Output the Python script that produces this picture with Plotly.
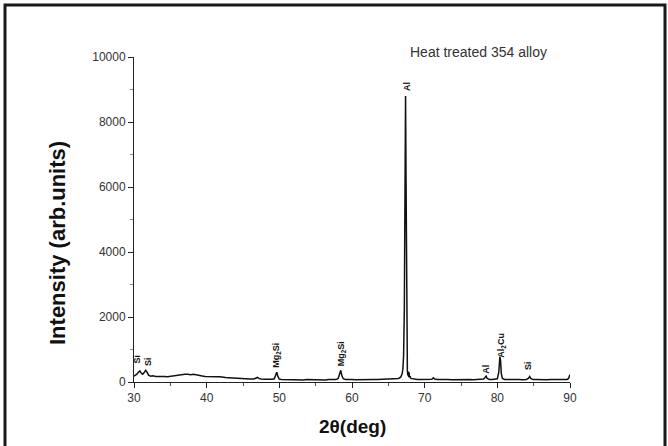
import plotly.graph_objects as go

two_theta = [
    30.0, 30.2, 30.4, 30.6, 30.8, 31.0, 31.2, 31.4, 31.6, 31.8, 32.0, 32.3, 32.6, 33.0, 33.4, 33.8,
    34.2, 34.6, 35.0, 35.4, 35.8, 36.2, 36.6, 37.0, 37.4, 37.8, 38.2, 38.6, 39.0, 39.4, 39.8, 40.2,
    40.6, 41.0, 41.4, 41.8, 42.2, 42.6, 43.0, 43.5, 44.0, 44.5, 45.0, 45.5, 46.0, 46.5, 46.8, 47.0,
    47.2, 47.5, 48.0, 48.5, 49.0, 49.3, 49.5, 49.65, 49.8, 50.0, 50.3, 50.8, 51.3, 51.8, 52.3, 52.8,
    53.3, 53.8, 54.3, 54.8, 55.3, 55.8, 56.3, 56.8, 57.3, 57.8, 58.1, 58.3, 58.45, 58.6, 58.8, 59.1,
    59.5, 60.0, 60.5, 61.0, 61.5, 62.0, 62.5, 63.0, 63.5, 64.0, 64.5, 65.0, 65.5, 66.0, 66.4, 66.7,
    66.9, 67.0, 67.1, 67.2, 67.3, 67.37, 67.43, 67.5, 67.56, 67.62, 67.68, 67.74, 67.8, 67.86, 67.92, 68.0,
    68.1, 68.3, 68.6, 69.0, 69.5, 70.0, 70.5, 71.0, 71.2, 71.4, 71.7, 72.2, 72.7, 73.2, 73.7, 74.2,
    74.7, 75.2, 75.7, 76.2, 76.7, 77.2, 77.7, 78.1, 78.3, 78.45, 78.6, 78.9, 79.3, 79.7, 80.0, 80.2,
    80.35, 80.45, 80.55, 80.7, 81.0, 81.5, 82.0, 82.5, 83.0, 83.5, 84.0, 84.3, 84.45, 84.6, 84.9, 85.3,
    85.8, 86.3, 86.8, 87.3, 87.8, 88.3, 88.8, 89.3, 89.6, 89.8, 89.95, 90.0,
]
intensity = [
    180, 210, 240, 300, 340, 270, 240, 290, 360, 300, 210, 180, 190, 170, 175, 160,
    170, 165, 180, 195, 215, 230, 245, 240, 235, 225, 240, 215, 200, 185, 170, 165,
    160, 150, 160, 165, 140, 135, 130, 120, 115, 105, 100, 95, 90, 95, 120, 140,
    110, 90, 85, 80, 85, 100, 200, 300, 170, 90, 80, 75, 80, 70, 75, 70,
    65, 75, 70, 65, 75, 70, 65, 75, 70, 75, 110, 250, 360, 200, 100, 80,
    70, 75, 70, 75, 70, 75, 70, 80, 75, 80, 80, 85, 85, 90, 110, 150,
    250, 400, 800, 2200, 6200, 8800, 6500, 2600, 900, 350, 200, 320, 150, 300, 140, 180,
    110, 100, 90, 80, 80, 75, 80, 85, 130, 90, 75, 80, 70, 75, 70, 75,
    70, 75, 70, 75, 70, 75, 80, 90, 140, 180, 110, 80, 80, 85, 100, 300,
    780, 650, 250, 110, 80, 75, 80, 70, 75, 70, 80, 120, 170, 110, 75, 80,
    70, 75, 70, 75, 70, 75, 70, 75, 80, 110, 200, 230,
]

x_ticks = [30, 40, 50, 60, 70, 80, 90]
y_ticks = [0, 2000, 4000, 6000, 8000, 10000]
y_tick_text = ["0", "2000", "4000", "6000", "8000", "10000"]

peak_labels = ["Si", "Si", "Mg<sub>2</sub>Si", "Mg<sub>2</sub>Si", "Al", "Al", "Al<sub>2</sub>Cu", "Si"]
label_x = [30.45, 31.9, 49.5, 58.5, 67.55, 78.4, 80.6, 84.3]
label_y = [700, 640, 830, 860, 9100, 400, 1140, 510]

FONT = "Liberation Sans, Arial, sans-serif"

fig = go.Figure()
fig.add_trace(go.Scatter(x=two_theta, y=intensity, mode="lines",
                         line=dict(color="#111111", width=1.5), hoverinfo="skip"))

L, R, T, B = 134, 98, 57, 64
W, H = 668, 446
pw, ph = W - L - R, H - T - B

annotations = []
for t, x, y in zip(peak_labels, label_x, label_y):
    annotations.append(dict(x=x, y=y, xref="x", yref="y", text="<b>%s</b>" % t, showarrow=False,
                            textangle=-90, xanchor="center", yanchor="middle",
                            font=dict(family=FONT, size=9, color="#111111")))

annotations.append(dict(x=(478 - L) / pw, y=(382 - 52) / ph, xref="paper", yref="paper",
                        text="Heat treated 354 alloy", showarrow=False, xanchor="center", yanchor="middle",
                        font=dict(family=FONT, size=14, color="#333333")))
annotations.append(dict(x=(57 - L) / pw, y=(382 - 243) / ph, xref="paper", yref="paper",
                        text="<b>Intensity (arb.units)</b>", showarrow=False, textangle=-90,
                        xanchor="center", yanchor="middle",
                        font=dict(family=FONT, size=22, color="#111111")))
annotations.append(dict(x=(352 - L) / pw, y=(382 - 426) / ph, xref="paper", yref="paper",
                        text="<b>2θ(deg)</b>", showarrow=False, xanchor="center", yanchor="middle",
                        font=dict(family=FONT, size=19, color="#111111")))

fig.update_layout(
    width=W, height=H,
    margin=dict(l=L, r=R, t=T, b=B),
    paper_bgcolor="white", plot_bgcolor="white",
    showlegend=False,
    annotations=annotations,
    shapes=[dict(type="rect", xref="paper", yref="paper",
                 x0=(5 - L) / pw, x1=(665 - L) / pw, y0=(382 - 460) / ph, y1=(382 - 5) / ph,
                 line=dict(color="#1a1a1a", width=3), fillcolor="rgba(0,0,0,0)", layer="below")],
    xaxis=dict(range=[30, 90], tickvals=x_ticks, ticks="outside", ticklen=5, tickwidth=1,
               tickcolor="#222", showline=True, linecolor="#222", linewidth=1, showgrid=False,
               zeroline=False, tickfont=dict(family=FONT, size=12, color="#333"),
               minor=dict(dtick=5, tick0=30, ticks="outside", ticklen=3, tickcolor="#555")),
    yaxis=dict(range=[0, 10000], tickvals=y_ticks, ticktext=y_tick_text, ticks="outside", ticklen=5,
               tickwidth=1, tickcolor="#222", showline=True, linecolor="#222", linewidth=1,
               showgrid=False, zeroline=False, tickfont=dict(family=FONT, size=12, color="#333"),
               minor=dict(dtick=1000, tick0=0, ticks="outside", ticklen=3, tickcolor="#888")),
)

fig.write_html("out.html")
